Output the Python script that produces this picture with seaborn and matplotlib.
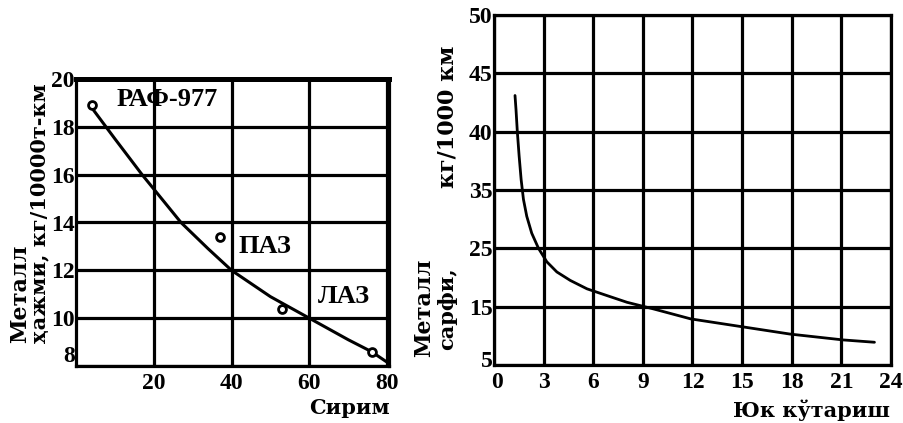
import numpy as np
import pandas as pd
import matplotlib
matplotlib.use("Agg")
import matplotlib.pyplot as plt
import matplotlib.transforms as mtransforms
from matplotlib.font_manager import FontProperties
import seaborn as sns

# ---- data: left chart (metal intensity vs capacity) ----
curve1_x = [4.5, 10, 17, 20, 27, 34, 40, 50, 60, 70, 76, 81]
curve1_y = [18.7, 17.5, 16.0, 15.4, 14.0, 12.9, 12.0, 10.9, 10.0, 9.1, 8.6, 8.05]
pts_x = [4, 37, 53, 76]
pts_y = [18.9, 13.4, 10.4, 8.6]
bus_names = ["РАФ-977", "ПАЗ", "ЛАЗ"]
bus_label_x = [10.4, 41.8, 62.3]
bus_label_y = [19.15, 13.0, 10.9]
left_xticks = [20, 40, 60, 80]
left_yticks = [8, 10, 12, 14, 16, 18, 20]

# ---- data: right chart (metal consumption vs load capacity) ----
curve2_x = [1.27, 1.33, 1.41, 1.52, 1.64, 1.78, 1.98, 2.28, 2.69, 3.19, 3.80, 4.61,
            5.62, 6.83, 8.04, 9.66, 11.9, 14.9, 17.9, 21.1, 23.0]
curve2_y = [43.1, 41.9, 40.0, 37.9, 35.9, 33.4, 30.5, 27.6, 25.0, 22.7, 20.95, 19.5,
            18.06, 16.9, 15.75, 14.6, 12.9, 11.6, 10.3, 9.3, 8.9]
right_xticks = [0, 3, 6, 9, 12, 15, 18, 21, 24]
right_yticks = [5, 15, 25, 35, 40, 45, 50]

sns.set_theme(style="white")
plt.rcParams["font.family"] = ["Liberation Serif", "DejaVu Serif"]
plt.rcParams["font.weight"] = "bold"
plt.rcParams["text.color"] = "black"

fig = plt.figure(figsize=(9.04, 4.23), dpi=100)
W, H = 904, 423
ax1 = fig.add_axes([76 / W, 1 - 366 / H, (389 - 76) / W, (366 - 79) / H])
ax2 = fig.add_axes([494 / W, 1 - 365 / H, (891 - 494) / W, (365 - 15) / H])

lw_grid = 2.3
tick_fp = FontProperties(family=["Liberation Serif"], weight="bold", size=17)
ann_font = dict(family=["Liberation Serif"], weight="bold", fontsize=19, color="black")
lab_font = dict(family=["DejaVu Serif"], weight="bold", color="black")


def style_axes(ax):
    ax.grid(True, color="black", linewidth=lw_grid)
    ax.set_axisbelow(True)
    ax.set_xlabel("")
    ax.set_ylabel("")
    for s in ax.spines.values():
        s.set_color("black")
        s.set_linewidth(lw_grid)
    ax.tick_params(axis="x", length=0, pad=5)
    ax.tick_params(axis="y", length=0, pad=1)
    for lab in ax.get_xticklabels() + ax.get_yticklabels():
        lab.set_fontproperties(tick_fp)
        lab.set_color("black")


def lift_first_ylabel(ax, pixels):
    lab = ax.get_yticklabels()[0]
    lab.set_transform(lab.get_transform() +
                      mtransforms.Affine2D().translate(0, pixels))


# Left chart
df1 = pd.DataFrame({"x": curve1_x, "y": curve1_y})
sns.lineplot(data=df1, x="x", y="y", ax=ax1, color="black", linewidth=2.2, sort=False)
dfp = pd.DataFrame({"x": pts_x, "y": pts_y})
sns.scatterplot(data=dfp, x="x", y="y", ax=ax1, s=32, facecolor="white",
                edgecolor="black", linewidth=2.0, zorder=5)
for name, lx, ly in zip(bus_names, bus_label_x, bus_label_y):
    ax1.text(lx, ly, name, ha="left", va="center", **ann_font)
ax1.set_xlim(0, 80.5)
ax1.set_ylim(8, 20)
ax1.set_xticks(left_xticks)
ax1.set_yticks(left_yticks)
style_axes(ax1)
ax1.spines["top"].set_linewidth(3.6)
lift_first_ylabel(ax1, 12)

# Right chart: non-uniform y scale (labels equally spaced)
df2 = pd.DataFrame({"x": curve2_x, "y": curve2_y})
sns.lineplot(data=df2, x="x", y="y", ax=ax2, color="black", linewidth=2.0, sort=False)
pos = np.arange(len(right_yticks), dtype=float)
vals = np.array(right_yticks, dtype=float)
ax2.set_yscale("function", functions=(lambda v: np.interp(v, vals, pos),
                                       lambda p: np.interp(p, pos, vals)))
ax2.set_xlim(0, 24)
ax2.set_ylim(5, 50)
ax2.set_xticks(right_xticks)
ax2.set_yticks(right_yticks)
ax2.set_yticklabels([str(v) for v in right_yticks])
ax2.yaxis.set_minor_locator(matplotlib.ticker.NullLocator())
style_axes(ax2)
lift_first_ylabel(ax2, 6)
lab0 = ax2.get_xticklabels()[0]
lab0.set_transform(lab0.get_transform() + mtransforms.Affine2D().translate(3, 0))

# Axis titles
fig.text(20 / W, 1 - 343 / H, "Металл", rotation=90, ha="center", va="bottom",
         fontsize=16, **lab_font)
fig.text(39 / W, 1 - 343 / H, "ҳажми, кг/10000т-км", rotation=90, ha="center", va="bottom",
         fontsize=15, **lab_font)
fig.text(390 / W, 1 - 408 / H, "Сирим", ha="right", va="center", fontsize=15, **lab_font)

fig.text(424 / W, 1 - 357 / H, "Металл", rotation=90, ha="center", va="bottom",
         fontsize=16, **lab_font)
fig.text(447 / W, 1 - 350 / H, "сарфи,", rotation=90, ha="center", va="bottom",
         fontsize=15, **lab_font)
fig.text(448 / W, 1 - 188 / H, "кг/1000 км", rotation=90, ha="center", va="bottom",
         fontsize=16, **lab_font)
fig.text(890 / W, 1 - 410 / H, "Юк кўтариш", ha="right", va="center", fontsize=15, **lab_font)

fig.savefig("out.png", dpi=100, facecolor="white")
